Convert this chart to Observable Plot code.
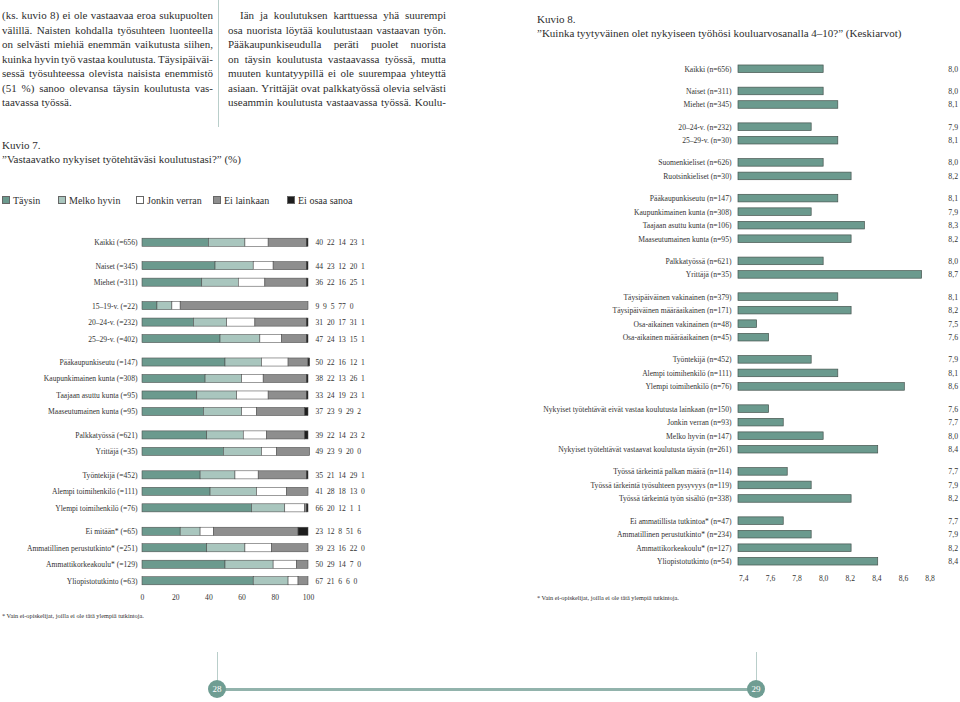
<!DOCTYPE html>
<html>
<head>
<meta charset="utf-8">
<script src="https://cdn.jsdelivr.net/npm/d3@7"></script>
<script src="https://cdn.jsdelivr.net/npm/@observablehq/plot@0.6"></script>
<style>
html, body { margin: 0; padding: 0; background: #fff; }
#page { position: relative; width: 960px; height: 702px; overflow: hidden;
  font-family: 'Liberation Serif', 'Times New Roman', serif; color: #2e2e2e; }
#page div, #page span { font-family: 'Liberation Serif', 'Times New Roman', serif; }
.col { position: absolute; font-size: 11px; line-height: 14.5px; }
.line { display: flex; justify-content: space-between; white-space: nowrap; }
.line.plain { justify-content: flex-start; }
.title { position: absolute; font-size: 11px; line-height: 14.5px; white-space: nowrap; }
.leg { position: absolute; font-size: 10px; line-height: 12px; white-space: nowrap; top: 195px; }
.sw { display: inline-block; width: 6px; height: 6px; border: 0.6px solid #666; margin-right: 3px; vertical-align: 0px; }
.foot { position: absolute; font-size: 6.3px; white-space: nowrap; }
.vrule { position: absolute; width: 1px; background: #b9ceca; }
.hrule { position: absolute; height: 3px; background: #92b3ac; }
.pnum { position: absolute; width: 18px; height: 18px; border-radius: 50%; background: #6f9d93;
  color: #fff; font-size: 9px; line-height: 18px; text-align: center; }
</style>
</head>
<body>
<div id="page"></div>
<script>
// ---------- Text ----------
const leftParagraph = [
  "(ks. kuvio 8) ei ole vastaavaa eroa sukupuolten",
  "välillä. Naisten kohdalla työsuhteen luonteella",
  "on selvästi miehiä enemmän vaikutusta siihen,",
  "kuinka hyvin työ vastaa koulutusta. Täysipäiväi-",
  "sessä työsuhteessa olevista naisista enemmistö",
  "(51 %) sanoo olevansa täysin koulutusta vas-",
  "taavassa työssä."
];
const rightParagraph = [
  "Iän ja koulutuksen karttuessa yhä suurempi",
  "osa nuorista löytää koulutustaan vastaavan työn.",
  "Pääkaupunkiseudulla peräti puolet nuorista",
  "on täysin koulutusta vastaavassa työssä, mutta",
  "muuten kuntatyypillä ei ole suurempaa yhteyttä",
  "asiaan. Yrittäjät ovat palkkatyössä olevia selvästi",
  "useammin koulutusta vastaavassa työssä. Koulu-"
];

// ---------- Kuvio 7 data ----------
const fig7Title = "Kuvio 7.";
const fig7Subtitle = "”Vastaavatko nykyiset työtehtäväsi koulutustasi?” (%)";
const seriesNames = ["Täysin", "Melko hyvin", "Jonkin verran", "Ei lainkaan", "Ei osaa sanoa"];
const seriesColors = ["#6b9a8e", "#a9c6be", "#ffffff", "#8e8e8e", "#1e1e1e"];
const leftLabels = [
  "Kaikki (=656)",
  "Naiset (=345)", "Miehet (=311)",
  "15–19-v. (=22)", "20–24-v. (=232)", "25–29-v. (=402)",
  "Pääkaupunkiseutu (=147)", "Kaupunkimainen kunta (=308)", "Taajaan asuttu kunta (=95)", "Maaseutumainen kunta (=95)",
  "Palkkatyössä (=621)", "Yrittäjä (=35)",
  "Työntekijä (=452)", "Alempi toimihenkilö (=111)", "Ylempi toimihenkilö (=76)",
  "Ei mitään* (=65)", "Ammatillinen perustutkinto* (=251)", "Ammattikorkeakoulu* (=129)", "Yliopistotutkinto (=63)"
];
const leftGroups = [0, 1, 1, 2, 2, 2, 3, 3, 3, 3, 4, 4, 5, 5, 5, 6, 6, 6, 6];
const taysin     = [40, 44, 36,  9, 31, 47, 50, 38, 33, 37, 39, 49, 35, 41, 66, 23, 39, 50, 67];
const melkoHyvin = [22, 23, 22,  9, 20, 24, 22, 22, 24, 23, 22, 23, 21, 28, 20, 12, 23, 29, 21];
const jonkinVerran = [14, 12, 16, 5, 17, 13, 16, 13, 19,  9, 14,  9, 14, 18, 12,  8, 16, 14,  6];
const eiLainkaan = [23, 20, 25, 77, 31, 15, 12, 26, 23, 29, 23, 20, 29, 13,  1, 51, 22,  7,  6];
const eiOsaaSanoa = [1,  1,  1,  0,  1,  1,  1,  1,  1,  2,  2,  0,  1,  0,  1,  6,  0,  0,  0];
const leftTicks = [0, 20, 40, 60, 80, 100];
const fig7Foot = "* Vain ei-opiskelijat, joilla ei ole tätä ylempiä tutkintoja.";

// ---------- Kuvio 8 data ----------
const fig8Title = "Kuvio 8.";
const fig8Subtitle = "”Kuinka tyytyväinen olet nykyiseen työhösi kouluarvosanalla 4–10?” (Keskiarvot)";
const rightLabels = [
  "Kaikki (n=656)",
  "Naiset (n=311)", "Miehet (n=345)",
  "20–24-v. (n=232)", "25–29-v. (n=30)",
  "Suomenkieliset (n=626)", "Ruotsinkieliset (n=30)",
  "Pääkaupunkiseutu (n=147)", "Kaupunkimainen kunta (n=308)", "Taajaan asuttu kunta (n=106)", "Maaseutumainen kunta (n=95)",
  "Palkkatyössä (n=621)", "Yrittäjä (n=35)",
  "Täysipäiväinen vakinainen (n=379)", "Täysipäiväinen määräaikainen (n=171)", "Osa-aikainen vakinainen (n=48)", "Osa-aikainen määräaikainen (n=45)",
  "Työntekijä (n=452)", "Alempi toimihenkilö (n=111)", "Ylempi toimihenkilö (n=76)",
  "Nykyiset työtehtävät eivät vastaa koulutusta lainkaan (n=150)", "Jonkin verran (n=93)", "Melko hyvin (n=147)", "Nykyiset työtehtävät vastaavat koulutusta täysin (n=261)",
  "Työssä tärkeintä palkan määrä (n=114)", "Työssä tärkeintä työsuhteen pysyvyys (n=119)", "Työssä tärkeintä työn sisältö (n=338)",
  "Ei ammatillista tutkintoa* (n=47)", "Ammatillinen perustutkinto* (n=234)", "Ammattikorkeakoulu* (n=127)", "Yliopistotutkinto (n=54)"
];
const rightGroups = [0, 1, 1, 2, 2, 3, 3, 4, 4, 4, 4, 5, 5, 6, 6, 6, 6, 7, 7, 7, 8, 8, 8, 8, 9, 9, 9, 10, 10, 10, 10];
const rightMeans = [8.00, 8.00, 8.11, 7.91, 8.11, 8.00, 8.21, 8.11, 7.91, 8.31, 8.21, 8.00, 8.74,
  8.11, 8.21, 7.50, 7.59, 7.91, 8.11, 8.61, 7.59, 7.70, 8.00, 8.41, 7.73, 7.91, 8.21, 7.70, 7.91, 8.21, 8.41];
const rightTicks = [7.4, 7.6, 7.8, 8.0, 8.2, 8.4, 8.6, 8.8];
const rightBase = 7.36;
const fig8Foot = "* Vain ei-opiskelijat, joilla ei ole tätä ylempiä tutkintoja.";

// ---------- Helpers ----------
const page = document.getElementById("page");
function add(html, cls, css) {
  const d = document.createElement("div");
  d.className = cls; d.innerHTML = html; Object.assign(d.style, css || {});
  page.appendChild(d); return d;
}
function paragraph(lines, left, width, top, justifyLast, indent) {
  const col = add("", "col", {left: left + "px", top: top + "px", width: width + "px"});
  lines.forEach((ln, i) => {
    const row = document.createElement("div");
    const justify = i < lines.length - 1 || justifyLast;
    row.className = "line" + (justify ? "" : " plain");
    if (i === 0 && indent) row.style.paddingLeft = indent + "px";
    ln.split(" ").forEach((w, k) => {
      const s = document.createElement("span");
      s.textContent = w;
      if (!justify && k > 0) s.style.marginLeft = "0.25em";
      row.appendChild(s);
    });
    col.appendChild(row);
  });
}
function positions(groups, gap) {
  let off = 0;
  return groups.map((g, i) => { if (i > 0 && g !== groups[i - 1]) off += gap; return i + off; });
}
const comma = v => v.toFixed(1).replace(".", ",");
const serif = "'Liberation Serif', 'Times New Roman', serif";

// ---------- Page text ----------
paragraph(leftParagraph, 2, 211, 8, false, 0);
paragraph(rightParagraph, 228, 218, 8, true, 12);
add("", "vrule", {left: "218px", top: "0px", height: "127px"});

add(fig7Title, "title", {left: "2px", top: "138px"});
add(fig7Subtitle, "title", {left: "2px", top: "152px"});
const legLeft = [2, 58, 136, 213, 287];
seriesNames.forEach((n, i) => {
  add(`<span class="sw" style="background:${seriesColors[i]}"></span>${n}`, "leg", {left: legLeft[i] + "px"});
});

add(fig8Title, "title", {left: "537px", top: "12px"});
add(fig8Subtitle, "title", {left: "537px", top: "26px"});

add(fig7Foot, "foot", {left: "2px", top: "612px"});
add(fig8Foot, "foot", {left: "537px", top: "594px"});

// page numbers
add("", "vrule", {left: "217px", top: "652px", height: "30px"});
add("", "vrule", {left: "756px", top: "652px", height: "30px"});
add("", "hrule", {left: "217px", top: "688px", width: "540px"});
add("28", "pnum", {left: "208px", top: "680px"});
add("29", "pnum", {left: "747px", top: "680px"});

// ---------- Kuvio 7 chart ----------
const series = [taysin, melkoHyvin, jonkinVerran, eiLainkaan, eiOsaaSanoa];
const lp = positions(leftGroups, 0.42);
const leftLabelByPos = new Map(lp.map((p, i) => [p, leftLabels[i]]));
const segs = [];
leftLabels.forEach((lab, i) => {
  let acc = 0;
  series.forEach((s, k) => {
    if (s[i] > 0) segs.push({pos: lp[i], cat: seriesNames[k], x1: acc, x2: acc + s[i]});
    acc += s[i];
  });
});
const leftRows = leftLabels.map((lab, i) => ({pos: lp[i], text: series.map(s => s[i]).join("\u2002")}));

const chart7 = Plot.plot({
  width: 420, height: 385,
  marginLeft: 142, marginRight: 112, marginTop: 10, marginBottom: 20,
  style: {fontFamily: serif, fontSize: "7.6px", color: "#333", background: "transparent", overflow: "visible"},
  x: {domain: [0, 100], ticks: leftTicks, tickSize: 0, tickPadding: 5, label: null},
  y: {domain: [-0.5, lp[lp.length - 1] + 0.5], reverse: true, ticks: lp, tickSize: 0, tickPadding: 5,
      tickFormat: d => leftLabelByPos.get(d), label: null},
  color: {domain: seriesNames, range: seriesColors},
  marks: [
    Plot.rectX(segs, {x1: "x1", x2: "x2", y1: d => d.pos - 0.245, y2: d => d.pos + 0.245,
      fill: "cat", stroke: "#4a4a4a", strokeWidth: 0.55}),
    Plot.text(leftRows, {x: 100, y: "pos", text: "text", dx: 7, textAnchor: "start", fontSize: 7.6, fill: "#333"})
  ]
});
Object.assign(chart7.style, {position: "absolute", left: "0px", top: "224px"});
page.appendChild(chart7);

// ---------- Kuvio 8 chart ----------
const rp = positions(rightGroups, 0.64);
const rightLabelByPos = new Map(rp.map((p, i) => [p, rightLabels[i]]));
const rightRows = rightLabels.map((lab, i) => ({pos: rp[i], mean: rightMeans[i]}));

const chart8 = Plot.plot({
  width: 430, height: 536,
  marginLeft: 208, marginRight: 30.4, marginTop: 10, marginBottom: 20,
  style: {fontFamily: serif, fontSize: "7.6px", color: "#333", background: "transparent", overflow: "visible"},
  x: {domain: [rightBase, 8.8], ticks: rightTicks, tickSize: 0, tickPadding: 7, tickFormat: comma, label: null},
  y: {domain: [-0.5, rp[rp.length - 1] + 0.5], reverse: true, ticks: rp, tickSize: 0, tickPadding: 7,
      tickFormat: d => rightLabelByPos.get(d), label: null},
  marks: [
    Plot.rectX(rightRows, {x1: rightBase, x2: "mean", y1: d => d.pos - 0.28, y2: d => d.pos + 0.28,
      fill: "#6b9a8e", stroke: "#46544f", strokeWidth: 0.7}),
    Plot.text(rightRows, {x: 8.8, y: "pos", text: d => comma(d.mean), dx: 28, textAnchor: "end", fontSize: 7.8, fill: "#333"})
  ]
});
Object.assign(chart8.style, {position: "absolute", left: "530px", top: "52px"});
page.appendChild(chart8);
</script>
</body>
</html>
